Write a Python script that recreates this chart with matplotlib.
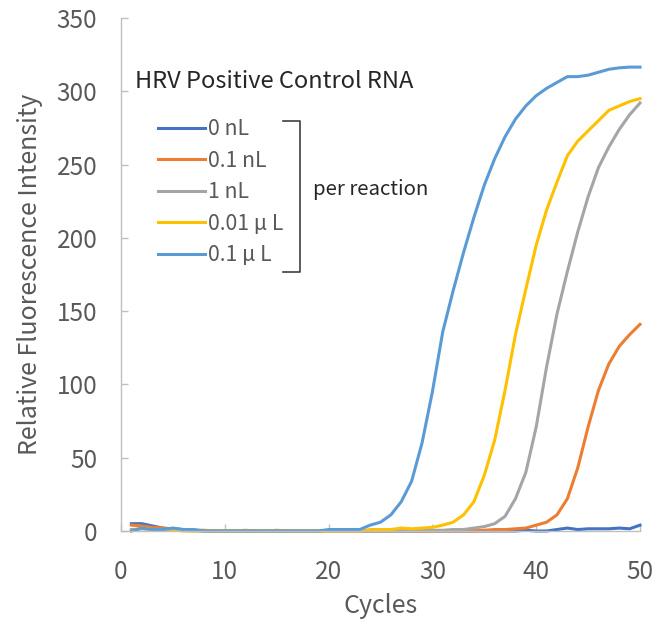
import numpy as np
import matplotlib.pyplot as plt
from matplotlib.lines import Line2D

plt.rcParams['font.family'] = ['Noto Sans CJK JP', 'DejaVu Sans']

cycles = np.arange(1, 51)

# 0 nL
rfu_0nl = [5, 5, 3.5, 2, 1.5, 1, 0.5, 0, 0, 0,
           0, 0, 0, 0, 0, 0, 0, 0, 0, 0,
           0, 0, 0, 0, 0, 0, 0, 0, 0, 0,
           0, 0, 0, 0, 0, 0, 0, 0, 0.5, 0,
           0, 1, 2, 1, 1.5, 1.5, 1.5, 2, 1.5, 4]
# 0.1 nL
rfu_01nl = [4, 3.5, 2.5, 2, 1, 1, 0.5, 0.5, 0, 0,
            0, 0.5, 0, 0, 0.5, 0, 0, 0, 0, 0,
            0, 0, 0, 0, 0, 0, 0, 0, 0, 0,
            0, 0, 0, 0, 0.5, 1, 1, 1.5, 2, 4,
            6, 11, 22, 43, 71, 96, 114, 126, 134, 141]
# 1 nL
rfu_1nl = [1, 1.5, 1, 1, 0.5, 0.5, 0, 0, 0, 0,
           0, 0, 0, 0, 0, 0, 0, 0, 0, 0,
           0, 0, 0, 0, 0, 0, 0, 0, 0.5, 0.5,
           0.5, 1, 1, 2, 3, 5, 10, 22, 40, 71,
           112, 148, 177, 204, 228, 248, 262, 274, 284, 292]
# 0.01 uL
rfu_001ul = [0, 2, 1, 1, 1, 0, 0, 0, 0, 0,
             0, 0, 0, 0, 0, 0, 0, 0, 0, 0,
             0, 0, 0, 1, 1, 1, 2, 1.5, 2, 2.5,
             4, 6, 11, 20, 38, 62, 96, 134, 165, 195,
             219, 238, 256, 266, 273, 280, 287, 290, 293, 295]
# 0.1 uL
rfu_01ul = [0, 2, 1, 1, 2, 1, 1, 0, 0, 0,
            0, 0, 0, 0, 0, 0, 0, 0, 0, 1,
            1, 1, 1, 4, 6, 11, 20, 34, 60, 95,
            136, 164, 190, 214, 236, 254, 269, 281, 290, 297,
            302, 306, 310, 310, 311, 313, 315, 316, 316.5, 316.5]

series = [rfu_0nl, rfu_01nl, rfu_1nl, rfu_001ul, rfu_01ul]
labels = ["0 nL", "0.1 nL", "1 nL", "0.01 μ L", "0.1 μ L"]
colors = ["#4472C4", "#ED7D31", "#A5A5A5", "#FFC000", "#5B9BD5"]

fig = plt.figure(figsize=(6.7, 6.25), dpi=100)
ax = fig.add_axes([121 / 670, 1 - 531 / 625, 519 / 670, 513 / 625])

for y, lab, c in zip(series, labels, colors):
    ax.plot(cycles, y, color=c, lw=2.2, label=lab, clip_on=False)

ax.set_xlim(0, 50)
ax.set_ylim(0, 350)
ax.set_xticks(np.arange(0, 51, 10))
ax.set_yticks(np.arange(0, 351, 50))

for s in ["top", "right"]:
    ax.spines[s].set_visible(False)
for s in ["left", "bottom"]:
    ax.spines[s].set_color("#BFBFBF")
    ax.spines[s].set_linewidth(1.0)

ax.tick_params(direction="in", length=5, width=1, color="#BFBFBF",
               labelsize=17.5, labelcolor="#595959")
ax.tick_params(axis="y", pad=17)
ax.tick_params(axis="x", pad=20)

ax.set_xlabel("Cycles", fontsize=18, color="#595959", labelpad=6)
ax.set_ylabel("Relative Fluorescence Intensity", fontsize=18, color="#595959", labelpad=10)

# legend + title
fig.text(135 / 670, 1 - 82 / 625, "HRV Positive Control RNA", fontsize=17,
         color="#262626", va="center", ha="left")
leg = ax.legend(loc="upper left", bbox_to_anchor=(158 / 670, 1 - 118 / 625),
                bbox_transform=fig.transFigure, frameon=False, fontsize=15.3,
                handlelength=2.2, handletextpad=0.15, labelspacing=0.45,
                borderpad=0, borderaxespad=0)
for t in leg.get_texts():
    t.set_color("#595959")

# bracket
bx = [283 / 670, 300 / 670, 300 / 670, 283 / 670]
by = [1 - 121 / 625, 1 - 121 / 625, 1 - 272 / 625, 1 - 272 / 625]
fig.add_artist(Line2D(bx, by, color="#404040", lw=1.2, transform=fig.transFigure))
fig.text(313 / 670, 1 - 189 / 625, "per reaction", fontsize=14.7,
         color="#262626", va="center", ha="left")

fig.savefig("out.png", dpi=100)
